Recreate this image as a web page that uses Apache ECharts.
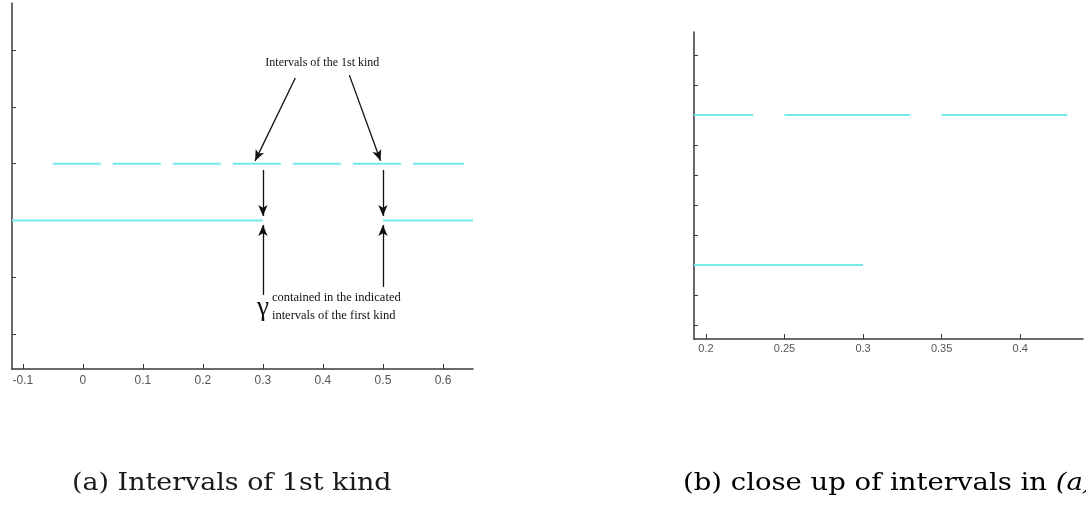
<!DOCTYPE html>
<html>
<head>
<meta charset="utf-8">
<script src="https://cdn.jsdelivr.net/npm/echarts@6/dist/echarts.min.js"></script>
<style>
  html, body { margin: 0; padding: 0; background: #fff; }
  #chart { width: 1086px; height: 508px; }
</style>
</head>
<body>
<div id="chart"></div>
<script>
// Panel (a): intervals of the first kind (upper, dashed) and the gamma set (lower)
const levelFirstKind = 4;
const levelGamma = 3;
const firstKindIntervals = [
  [-0.05, 0.03], [0.05, 0.13], [0.15, 0.23], [0.25, 0.33],
  [0.35, 0.43], [0.45, 0.53], [0.55, 0.635]
];
const gammaIntervals = [[-0.118, 0.3], [0.5, 0.65]];
const xTicksA = [-0.1, 0, 0.1, 0.2, 0.3, 0.4, 0.5, 0.6];
const yTicksA = [1, 2, 3, 4, 5, 6];

// Panel (b): close up of panel (a)
const closeFirstKind = [[0.1924, 0.23], [0.25, 0.33], [0.35, 0.43]];
const closeGamma = [[0.1924, 0.3]];
const xTicksB = [0.2, 0.25, 0.3, 0.35, 0.4];
const yTicksB = [2.6, 2.8, 3.0, 3.2, 3.4, 3.6, 3.8, 4.0, 4.2, 4.4];

// Annotation arrows in data coordinates of panel (a)
const arrowsA = [
  [[0.354, 5.51], [0.287, 4.05]],
  [[0.444, 5.56], [0.496, 4.05]],
  [[0.3, 3.89], [0.3, 3.08]],
  [[0.3, 1.69], [0.3, 2.92]],
  [[0.5, 3.89], [0.5, 3.08]],
  [[0.5, 1.83], [0.5, 2.92]]
];

function segData(intervals, level) {
  const out = [];
  intervals.forEach(([a, b]) => { out.push([a, level], [b, level], [b, '-']); });
  return out;
}

const cyan = '#74eaea';
const axisColor = '#3a3a3a';
const labelStyle = { color: '#555', fontFamily: 'Liberation Sans, Arial, sans-serif', fontSize: 12 };

const chart = echarts.init(document.getElementById('chart'));

function xAxis(grid, min, max, ticks, fontSize, margin) {
  return {
    type: 'value', gridIndex: grid, min: min, max: max,
    axisLine: { show: true, onZero: false, lineStyle: { color: axisColor, width: 1.5 } },
    axisTick: { show: true, inside: true, length: 5, customValues: ticks, lineStyle: { color: axisColor } },
    axisLabel: Object.assign({}, labelStyle, { fontSize: fontSize, margin: margin, customValues: ticks,
      formatter: v => String(Math.round(v * 100) / 100) }),
    splitLine: { show: false }
  };
}
function yAxis(grid, min, max, ticks) {
  return {
    type: 'value', gridIndex: grid, min: min, max: max,
    axisLine: { show: true, onZero: false, lineStyle: { color: axisColor, width: 1.5 } },
    axisTick: { show: true, inside: true, length: 4, customValues: ticks, lineStyle: { color: axisColor } },
    axisLabel: { show: false },
    splitLine: { show: false }
  };
}

function lineSeries(xi, yi, data, width, extra) {
  return Object.assign({
    type: 'line', xAxisIndex: xi, yAxisIndex: yi, data: data,
    showSymbol: false, symbol: 'none', connectNulls: false, silent: true,
    lineStyle: { color: cyan, width: width }, animation: false
  }, extra || {});
}

chart.setOption({
  animation: false,
  grid: [
    { left: 12, top: 3, width: 461, height: 366 },
    { left: 694, top: 32, width: 389, height: 307 }
  ],
  xAxis: [
    xAxis(0, -0.118, 0.65, xTicksA, 12, 6),
    xAxis(1, 0.1924, 0.44, xTicksB, 11, 4)
  ],
  yAxis: [
    yAxis(0, 0.384, 6.83, yTicksA),
    yAxis(1, 2.507, 4.553, yTicksB)
  ],
  series: [
    lineSeries(0, 0, segData(firstKindIntervals, levelFirstKind), 2),
    lineSeries(0, 0, segData(gammaIntervals, levelGamma), 2, {
      markLine: {
        silent: true, animation: false,
        symbol: ['none', 'arrow'], symbolSize: [7, 11],
        label: { show: false },
        lineStyle: { color: '#111', width: 1.3, type: 'solid' },
        data: arrowsA.map(([p, q]) => [{ coord: p }, { coord: q }])
      }
    }),
    lineSeries(1, 1, segData(closeFirstKind, levelFirstKind), 2),
    lineSeries(1, 1, segData(closeGamma, levelGamma), 2)
  ]
});

// Text annotations placed at data positions of panel (a)
function px(pt) { return chart.convertToPixel({ gridIndex: 0 }, pt); }
const serif = 'Liberation Serif, Times New Roman, serif';
const title = px([0.399, 5.77]);
const gam = px([0.3, 1.46]);
const note1 = px([0.315, 1.64]);
const note2 = px([0.315, 1.32]);
const capSerif = 'DejaVu Serif, serif';

chart.setOption({
  graphic: [
    { type: 'text', x: title[0], y: title[1], style: { text: 'Intervals of the 1st kind', font: '12px ' + serif, fill: '#111', textAlign: 'center', textVerticalAlign: 'middle' } },
    { type: 'text', x: gam[0], y: gam[1], style: { text: 'γ', font: '27px ' + serif, fill: '#111', textAlign: 'center', textVerticalAlign: 'middle' } },
    { type: 'text', x: note1[0], y: note1[1], style: { text: 'contained in the indicated', font: '12.5px ' + serif, fill: '#111', textAlign: 'left', textVerticalAlign: 'middle' } },
    { type: 'text', x: note2[0], y: note2[1], style: { text: 'intervals of the first kind', font: '12.5px ' + serif, fill: '#111', textAlign: 'left', textVerticalAlign: 'middle' } },
    { type: 'text', x: 72, y: 484, scaleX: 1.12, style: { text: '(a) Intervals of 1st kind', font: '24px ' + capSerif, fill: '#1a1a1a', textAlign: 'left', textVerticalAlign: 'middle' } },
    { type: 'text', x: 683, y: 484, scaleX: 1.145, style: { rich: { n: { fontFamily: capSerif, fontSize: 24, color: '#1a1a1a' }, i: { fontFamily: capSerif, fontStyle: 'italic', fontSize: 24, color: '#1a1a1a' } }, text: '{n|(b) close up of intervals in }{i|(a)}', textAlign: 'left', textVerticalAlign: 'middle' } }
  ]
});
</script>
</body>
</html>
